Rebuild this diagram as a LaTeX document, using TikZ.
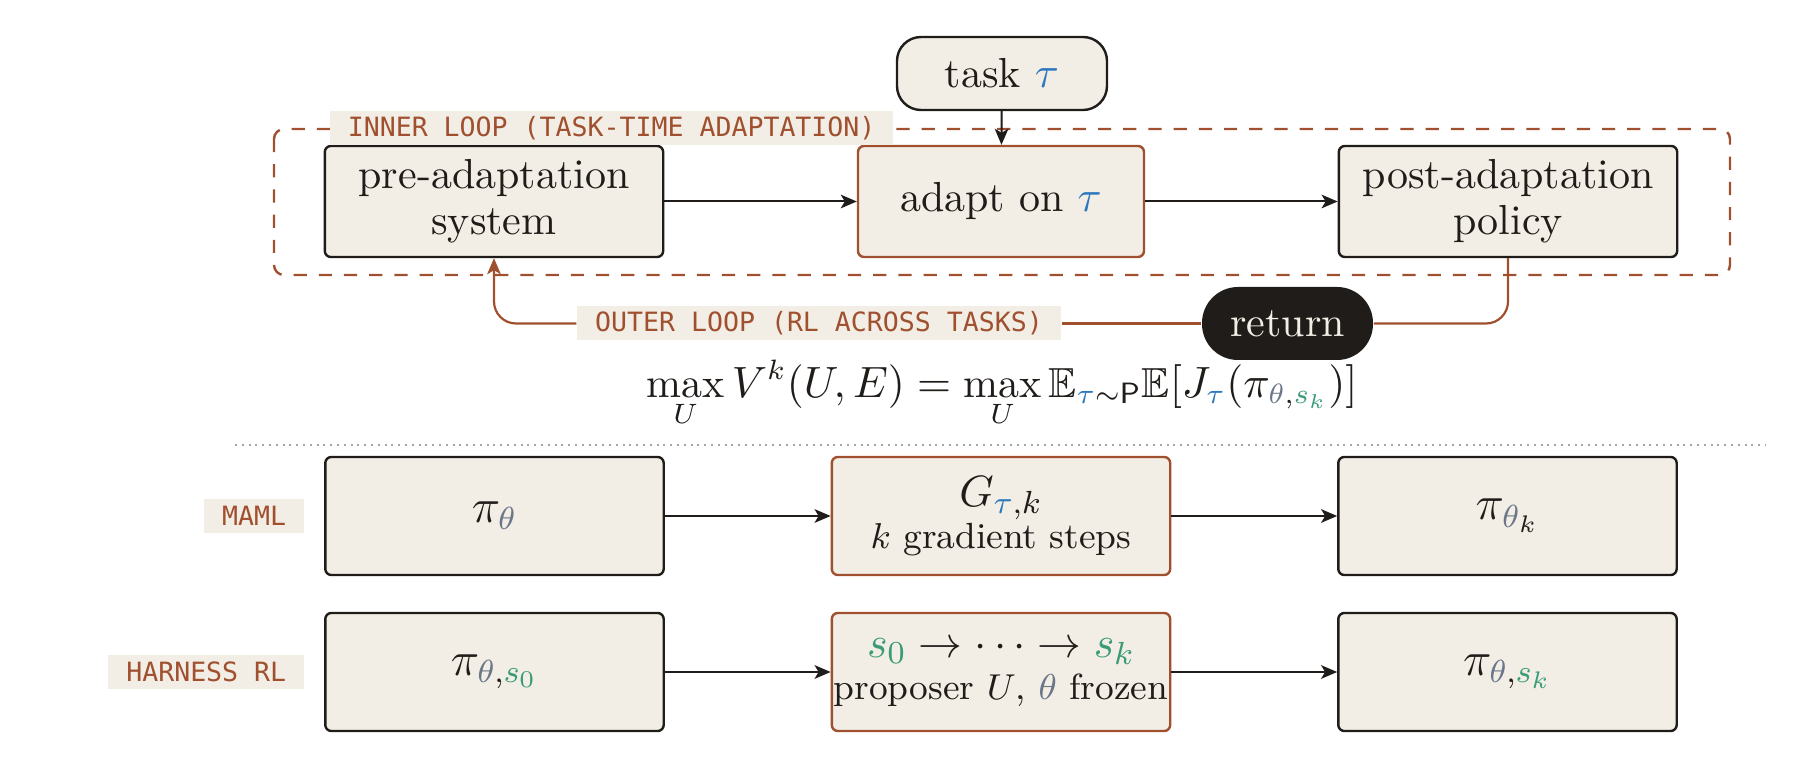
\documentclass[tikz,border=0pt]{standalone}
\usepackage{fontspec}
\setmonofont{DejaVu Sans Mono}
\usepackage{amssymb}
\usepackage{xcolor}
\usetikzlibrary{arrows.meta}

\definecolor{paper}{HTML}{F2EEE6}
\definecolor{rust}{HTML}{A0502E}
\definecolor{ink}{HTML}{1F1C19}
\definecolor{taublue}{HTML}{2E78BD}
\definecolor{sgreen}{HTML}{3A9B77}
\definecolor{thetagray}{HTML}{6B7689}

\newcommand{\tauc}{\textcolor{taublue}{\tau}}
\newcommand{\thc}{\textcolor{thetagray}{\theta}}
\newcommand{\szero}{\textcolor{sgreen}{s_0}}
\newcommand{\skay}{\textcolor{sgreen}{s_k}}
\newcommand{\headline}[1]{{\fontsize{10.8}{10.5}\selectfont #1}}

\tikzset{
  >={Stealth[length=4pt,width=3.4pt,inset=1pt]},
  box/.style={draw=ink, fill=paper, line width=0.6pt, rounded corners=1.5pt,
    align=center, text=ink, inner sep=0pt, font=\fontsize{10.5}{11.5}\selectfont},
  adaptbox/.style={box, draw=rust},
  wide/.style={minimum width=84.6pt, minimum height=27.75pt},
  rowbox/.style={minimum width=84.6pt, minimum height=29.5pt},
  pibox/.style={box, rowbox, font=\fontsize{12}{14}\selectfont},
  stepbox/.style={adaptbox, rowbox, font=\fontsize{9.1}{10.5}\selectfont},
  tag/.style={fill=paper, text=rust, inner xsep=4.5pt, inner ysep=0pt,
    minimum height=8.5pt, font=\fontsize{6.64}{8}\ttfamily},
  flow/.style={->, draw=ink, line width=0.5pt},
  loopline/.style={draw=rust, line width=0.55pt, rounded corners=5.5pt}
}

\begin{document}
\begin{tikzpicture}[x=0.25pt, y=-0.25pt]
\useasboundingbox (0,0) rectangle (1812,770);

\draw[rust, line width=0.6pt, dash pattern=on 3.3pt off 3pt, rounded corners=2.5pt]
  (274,129) rectangle (1730,275);

\node[box, rounded corners=6pt, minimum width=52.5pt, minimum height=18.25pt] (task) at (1002,73.5) {task $\tauc$};
\node[box, wide] (pre) at (494,201.5) {pre-adaptation\\system};
\node[adaptbox, minimum width=71.5pt, minimum height=27.75pt] (adapt) at (1001,201.5) {adapt on $\tauc$};
\node[box, wide] (post) at (1508,201.5) {post-adaptation\\policy};
\node[tag, anchor=west] (inner) at (329,128.5) {INNER LOOP (TASK-TIME ADAPTATION)};

\draw[flow] (task) -- (adapt);
\draw[flow] (pre) -- (adapt);
\draw[flow] (adapt) -- (post);

\node[tag] (outer) at (819,323.5) {OUTER LOOP (RL ACROSS TASKS)};
\node[fill=ink, text=paper, rounded corners=9pt, inner sep=0pt, minimum width=42.75pt,
  minimum height=18.25pt, font=\fontsize{10.5}{12}\selectfont] (ret) at (1287.5,323.5) {return};
\draw[loopline] (post.south) |- (ret.east);
\draw[loopline] (ret.west) -- (outer.east);
\draw[loopline, ->] (outer.west) -| (pre.south);

\node[text=ink, font=\fontsize{10.5}{12}\selectfont] (goal) at (1002,394)
  {$\displaystyle\max_U V^k(U,E)=\max_U \mathbb{E}_{\tauc\sim\mathsf{P}}\mathbb{E}\bigl[J_{\tauc}(\pi_{\thc,\skay})\bigr]$};

\draw[draw=black!35, line width=0.5pt, dash pattern=on 0.5pt off 1.2pt] (235,445) -- (1766,445);

\node[tag, anchor=east] (maml) at (305,516) {MAML};
\node[pibox] (m1) at (494.5,516) {$\pi_{\thc}$};
\node[stepbox] (m2) at (1001,516) {\headline{$G_{\tauc,k}$}\\$k$ gradient steps};
\node[pibox] (m3) at (1507.5,516) {$\pi_{\thc_k}$};
\draw[flow] (m1) -- (m2);
\draw[flow] (m2) -- (m3);

\node[tag, anchor=east] (harness) at (305,672) {HARNESS RL};
\node[pibox] (h1) at (494.5,672) {$\pi_{\thc,\szero}$};
\node[stepbox] (h2) at (1001,672) {\headline{$\szero\to\cdots\to\skay$}\\proposer $U$, $\thc$ frozen};
\node[pibox] (h3) at (1507.5,672) {$\pi_{\thc,\skay}$};
\draw[flow] (h1) -- (h2);
\draw[flow] (h2) -- (h3);
\end{tikzpicture}
\end{document}
